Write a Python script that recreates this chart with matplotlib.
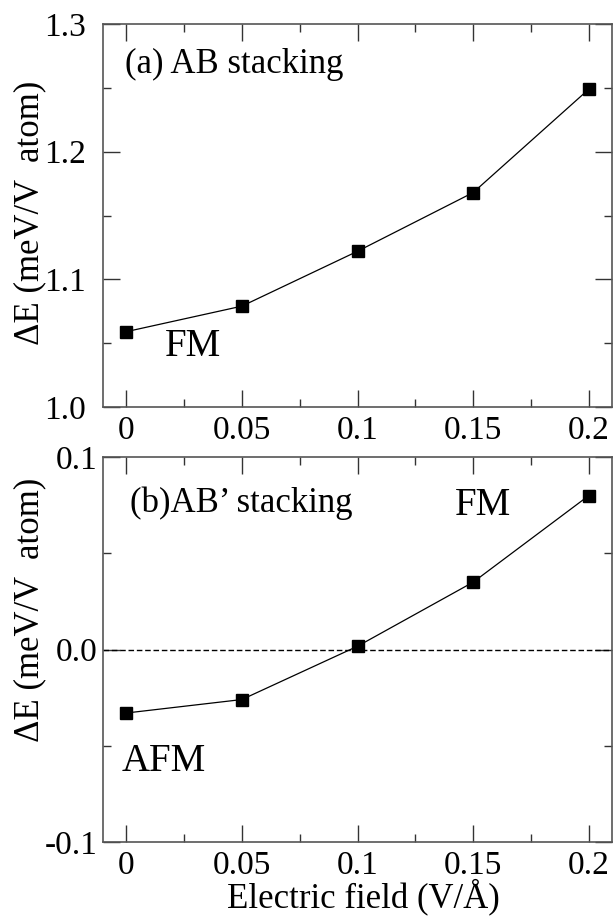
import matplotlib
matplotlib.use("Agg")
import matplotlib.pyplot as plt
from matplotlib.ticker import MultipleLocator, FixedLocator

plt.rcParams['font.family'] = ['Liberation Serif', 'DejaVu Serif']
plt.rcParams['mathtext.fontset'] = 'stix'

# data
field = [0.0, 0.05, 0.10, 0.15, 0.20]
dE_ab = [1.059, 1.079, 1.122, 1.168, 1.249]
dE_abp = [-0.033, -0.026, 0.0017, 0.035, 0.080]
xtick_labels = ['0', '0.05', '0.1', '0.15', '0.2']

fig = plt.figure(figsize=(6.14, 9.19), dpi=100)
ax1 = fig.add_axes([0.1678, 0.5571, 0.8290, 0.4168])
ax2 = fig.add_axes([0.1678, 0.0838, 0.8290, 0.4189])


def style(ax, ypad):
    ax.set_xlim(-0.01, 0.21)
    ax.xaxis.set_major_locator(FixedLocator(field))
    ax.set_xticklabels(xtick_labels)
    ax.xaxis.set_minor_locator(MultipleLocator(0.025))
    ax.tick_params(which='both', direction='in', top=True, right=True,
                   labelsize=24, color='#333333')
    ax.tick_params(which='major', length=12, width=1.0, pad=6)
    ax.tick_params(which='minor', length=6, width=1.0)
    ax.tick_params(axis='y', which='major', pad=ypad)
    for s in ax.spines.values():
        s.set_color('#555555')
        s.set_linewidth(1.2)


style(ax1, 12)
ax1.plot(field, dE_ab, color='black', lw=0.9, marker='s', ms=9,
         mfc='black', mec='black')
ax1.set_ylim(1.0, 1.3)
ax1.yaxis.set_major_locator(MultipleLocator(0.1))
ax1.yaxis.set_minor_locator(MultipleLocator(0.05))
ax1.yaxis.set_major_formatter(plt.FormatStrFormatter('%.1f'))
ax1.set_ylabel('ΔE (meV/V  atom)', fontsize=25, va='center')
ax1.yaxis.set_label_coords(-0.143, 0.506)
ax1.text(0.043, 0.893, '(a) AB stacking', transform=ax1.transAxes,
         fontsize=25, va='center', ha='left')
ax1.text(0.122, 0.157, 'FM', transform=ax1.transAxes,
         fontsize=28, va='center', ha='left')

style(ax2, 4)
ax2.axhline(0.0, color='black', lw=1.0, ls=(0, (4, 2)))
ax2.plot(field, dE_abp, color='black', lw=0.9, marker='s', ms=9,
         mfc='black', mec='black', zorder=3)
ax2.set_ylim(-0.1, 0.1)
ax2.yaxis.set_major_locator(MultipleLocator(0.1))
ax2.yaxis.set_minor_locator(MultipleLocator(0.05))
ax2.yaxis.set_major_formatter(plt.FormatStrFormatter('%.1f'))
ax2.set_ylabel('ΔE (meV/V  atom)', fontsize=25, va='center')
ax2.yaxis.set_label_coords(-0.143, 0.603)
ax2.set_xlabel('Electric field (V/Å)', fontsize=25, va='baseline')
ax2.xaxis.set_label_coords(0.512, -0.169)
ax2.text(0.053, 0.881, '(b)AB’ stacking', transform=ax2.transAxes,
         fontsize=25, va='center', ha='left')
ax2.text(0.692, 0.875, 'FM', transform=ax2.transAxes,
         fontsize=28, va='center', ha='left')
ax2.text(0.037, 0.208, 'AFM', transform=ax2.transAxes,
         fontsize=28, va='center', ha='left')

fig.savefig('out.png', dpi=100)
